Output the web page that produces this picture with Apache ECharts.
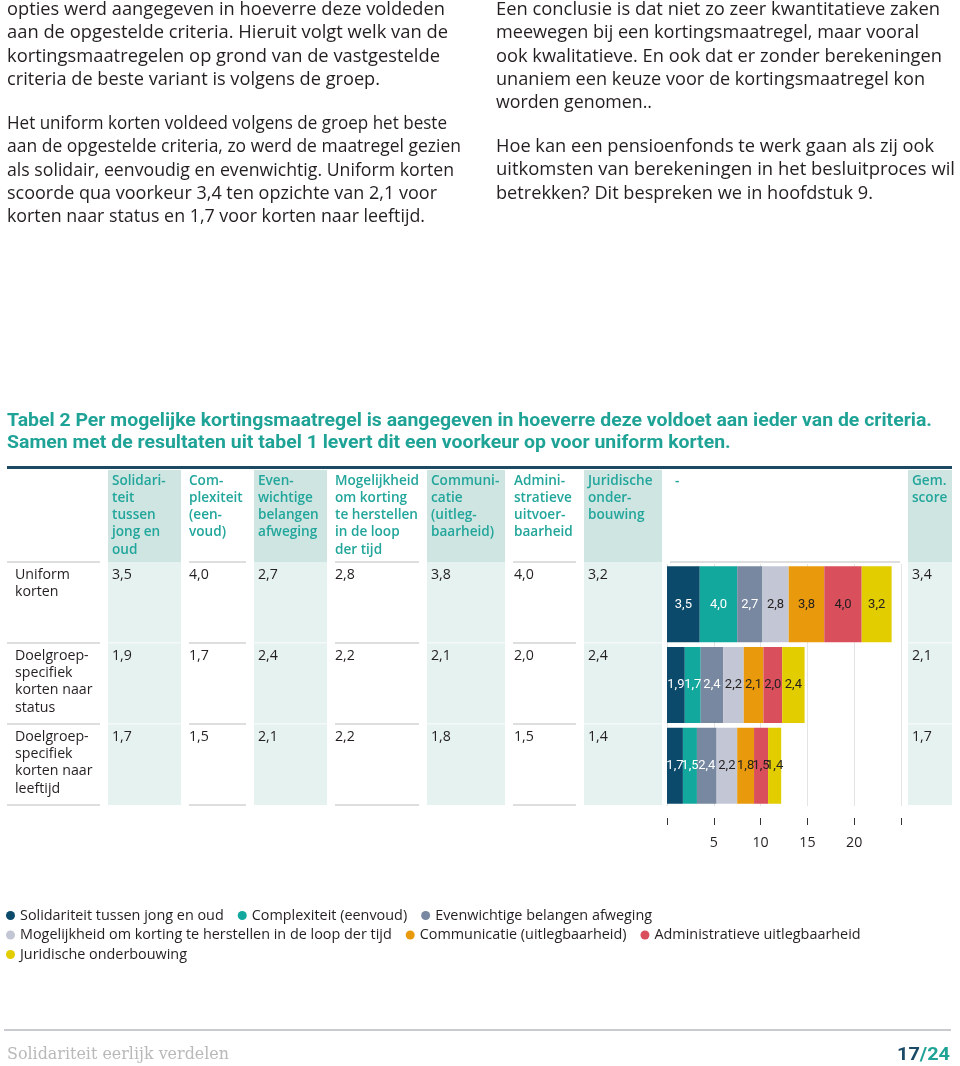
<!DOCTYPE html>
<html>
<head>
<meta charset="utf-8">
<script src="https://cdn.jsdelivr.net/npm/echarts@6.0.0/dist/echarts.min.js"></script>
<style>
html,body{margin:0;padding:0;background:#fff;}
#chart{width:960px;height:1066px;}
</style>
</head>
<body>
<div id="chart"></div>
<script>
// ---------- DATA ----------
const criteria = [
  'Solidariteit tussen jong en oud',
  'Complexiteit (eenvoud)',
  'Evenwichtige belangen afweging',
  'Mogelijkheid om korting te herstellen in de loop der tijd',
  'Communicatie (uitlegbaarheid)',
  'Administratieve uitlegbaarheid',
  'Juridische onderbouwing'
];
const columnHeaders = [
  'Solidari-\nteit\ntussen\njong en\noud',
  'Com-\nplexiteit\n(een-\nvoud)',
  'Even-\nwichtige\nbelangen\nafweging',
  'Mogelijkheid\nom korting\nte herstellen\nin de loop\nder tijd',
  'Communi-\ncatie\n(uitleg-\nbaarheid)',
  'Admini-\nstratieve\nuitvoer-\nbaarheid',
  'Juridische\nonder-\nbouwing',
  '-',
  'Gem.\nscore'
];
const measures = ['Uniform korten', 'Doelgroep-specifiek korten naar status', 'Doelgroep-specifiek korten naar leeftijd'];
const measureLabels = ['Uniform\nkorten', 'Doelgroep-\nspecifiek\nkorten naar\nstatus', 'Doelgroep-\nspecifiek\nkorten naar\nleeftijd'];
const uniformScores  = [3.5, 4.0, 2.7, 2.8, 3.8, 4.0, 3.2];
const statusScores   = [1.9, 1.7, 2.4, 2.2, 2.1, 2.0, 2.4];
const leeftijdScores = [1.7, 1.5, 2.1, 2.2, 1.8, 1.5, 1.4];
const averageScores  = [3.4, 2.1, 1.7];
// bar labels as printed in the source figure
const uniformBarLabels  = ['3,5', '4,0', '2,7', '2,8', '3,8', '4,0', '3,2'];
const statusBarLabels   = ['1,9', '1,7', '2,4', '2,2', '2,1', '2,0', '2,4'];
const leeftijdBarLabels = ['1,7', '1,5', '2,4', '2,2', '1,8', '1,5', '1,4'];
const xTickLabels = ['', '5', '10', '15', '20', ''];
const seriesColors = ['#0c4a6b', '#13a89e', '#7788a0', '#c3c6d4', '#e99a0c', '#da4f5c', '#e2cd00'];
const labelColors  = ['#ffffff', '#ffffff', '#ffffff', '#231f20', '#231f20', '#231f20', '#231f20'];

const leftText = [
  ['opties werd aangegeven in hoeverre deze voldeden',
   'aan de opgestelde criteria. Hieruit volgt welk van de',
   'kortingsmaatregelen op grond van de vastgestelde',
   'criteria de beste variant is volgens de groep.'],
  ['Het uniform korten voldeed volgens de groep het beste',
   'aan de opgestelde criteria, zo werd de maatregel gezien',
   'als solidair, eenvoudig en evenwichtig. Uniform korten',
   'scoorde qua voorkeur 3,4 ten opzichte van 2,1 voor',
   'korten naar status en 1,7 voor korten naar leeftijd.']
];
const rightText = [
  ['Een conclusie is dat niet zo zeer kwantitatieve zaken',
   'meewegen bij een kortingsmaatregel, maar vooral',
   'ook kwalitatieve. En ook dat er zonder berekeningen',
   'unaniem een keuze voor de kortingsmaatregel kon',
   'worden genomen..'],
  ['Hoe kan een pensioenfonds te werk gaan als zij ook',
   'uitkomsten van berekeningen in het besluitproces wil',
   'betrekken? Dit bespreken we in hoofdstuk 9.']
];
const titleLines = [
  'Tabel 2 Per mogelijke kortingsmaatregel is aangegeven in hoeverre deze voldoet aan ieder van de criteria.',
  'Samen met de resultaten uit tabel 1 levert dit een voorkeur op voor uniform korten.'
];
const footerLeft = 'Solidariteit eerlijk verdelen';
const pageNum = ['17', '/24'];

// ---------- LAYOUT ----------
const FAM = "'Open Sans', 'Noto Sans', sans-serif";
const TXT = '#231f20';
const TEAL = '#1fa396';
// right edges of paragraph lines (text set to these measures)
const leftEnds  = [[445, 448, 440, 380], [447, 461, 454, 437, 425]];
const rightEnds = [[940, 919, 942, 925, 652], [934, 955, 873]];
const cvs = document.createElement('canvas').getContext('2d');
function measure(t, font){ cvs.font = font; return cvs.measureText(t).width; }
const bodyFont = '17.4px ' + FAM;
const titleFont = "bold 19px Roboto, sans-serif";
const titleScale = 925 / measure(titleLines[0], titleFont);
const footFont = "17px 'DejaVu Serif', serif";
const footScale = 222 / measure(footerLeft, footFont);
const numFont = "bold 18px Roboto, sans-serif";
const numScale = 53 / measure(pageNum.join(''), numFont);

const cols = [
  {x0:108, x1:181, tx:112, shaded:true},
  {x0:189, x1:246, tx:189},
  {x0:254, x1:327, tx:258, shaded:true},
  {x0:335, x1:419, tx:335},
  {x0:427, x1:505, tx:431, shaded:true},
  {x0:513, x1:576, tx:514},
  {x0:584, x1:662, tx:588, shaded:true},
  {x0:670, x1:900, tx:675},
  {x0:908, x1:952, tx:912, shaded:true}
];
const rowTops = [562, 643, 724];
const tableBottom = 805;

function txt(x, y, text, o){
  o = o || {};
  return {
    type:'text', x:x, y:y, scaleX:o.scaleX||1, silent:true, z:10,
    style:{
      text:text, x:0, y:0,
      fill:o.fill||TXT,
      font:o.font||bodyFont,
      textAlign:o.align||'left', align:o.align||'left',
      textVerticalAlign:'middle', verticalAlign:'middle',
      rich:o.rich
    }
  };
}
const g = [];
function para(blocks, ends, x, y0, gapY){
  let y = y0;
  blocks.forEach((lines, bi) => {
    if (bi > 0) y += gapY;
    lines.forEach((l, li) => {
      const s = (ends[bi][li] - x) / measure(l, bodyFont);
      g.push(txt(x, y, l, {scaleX:s}));
      y += 23.3;
    });
  });
}
para(leftText, leftEnds, 7, 10, 21);
para(rightText, rightEnds, 496, 10, 20.5);

// title
titleLines.forEach((l, i) => g.push(txt(7, 421 + i*22, l, {font:titleFont, fill:TEAL, scaleX:titleScale})));
// top rule
g.push({type:'rect', shape:{x:7, y:466, width:945, height:3}, style:{fill:'#1b4a62'}, silent:true});

// column shading
cols.forEach(c => {
  if (c.shaded) {
    g.push({type:'rect', shape:{x:c.x0, y:470, width:c.x1-c.x0, height:rowTops[0]-470}, style:{fill:'#cfe5e2'}, silent:true, z:0});
    g.push({type:'rect', shape:{x:c.x0, y:rowTops[0], width:c.x1-c.x0, height:tableBottom-rowTops[0]}, style:{fill:'#e6f2f0'}, silent:true, z:0});
  }
});
// separator lines
const sepCols = [{x0:7, x1:100}].concat(cols.filter(c => !c.shaded));
sepCols.forEach(c => {
  const ys = (c.x0 === 670) ? [rowTops[0]] : rowTops.concat([tableBottom]);
  ys.forEach(y => g.push({type:'rect', shape:{x:c.x0, y:y-1, width:c.x1-c.x0, height:2}, style:{fill:'#dedede'}, silent:true, z:1}));
});
cols.filter(c => c.shaded).forEach(c => {
  [643, 724].forEach(y => g.push({type:'rect', shape:{x:c.x0, y:y-1, width:c.x1-c.x0, height:1.5}, style:{fill:'#f3f9f8'}, silent:true, z:1}));
});
// header texts
const headFont = '600 13.6px ' + FAM;
columnHeaders.forEach((h, ci) => {
  h.split('\n').forEach((l, li) => g.push(txt(cols[ci].tx, 481 + li*17.2, l, {font:headFont, fill:'#22a69b'})));
});
// row labels and values
const cellFont = '14.2px ' + FAM;
const allScores = [uniformScores, statusScores, leeftijdScores];
measureLabels.forEach((m, ri) => {
  m.split('\n').forEach((l, li) => g.push(txt(15, rowTops[ri] + 13 + li*17.2, l, {font:cellFont})));
  allScores[ri].forEach((v, ci) => g.push(txt(cols[ci].tx, rowTops[ri] + 13, v.toFixed(1).replace('.', ','), {font:cellFont})));
  g.push(txt(cols[8].tx, rowTops[ri] + 13, averageScores[ri].toFixed(1).replace('.', ','), {font:cellFont}));
});

// footer
g.push({type:'rect', shape:{x:4, y:1029, width:947, height:2}, style:{fill:'#c9cbd0'}, silent:true});
g.push(txt(7, 1055, footerLeft, {font:footFont, fill:'#b9b9b9', scaleX:footScale}));
g.push(txt(950, 1055, '{a|' + pageNum[0] + '}{b|' + pageNum[1] + '}', {
  font:numFont, align:'right', scaleX:numScale,
  rich:{a:{fill:'#1b4a66', font:numFont}, b:{fill:TEAL, font:numFont}}
}));

// ---------- CHART ----------
const barLabelSets = [uniformBarLabels, statusBarLabels, leeftijdBarLabels];
const series = criteria.map((name, si) => ({
  name: name,
  type: 'bar',
  stack: 'total',
  barWidth: 76,
  itemStyle: {color: seriesColors[si]},
  label: {
    show: true, position: 'inside',
    color: labelColors[si], fontSize: 13, fontFamily: 'Roboto, sans-serif',
    formatter: p => barLabelSets[p.dataIndex][si]
  },
  emphasis: {disabled: true},
  data: allScores.map(r => r[si])
}));

const legendBase = {
  left: 6, padding: 0, icon: 'circle', itemWidth: 9, itemHeight: 9, itemGap: 14,
  textStyle: {fontSize: 14.4, color: TXT, fontFamily: FAM}, selectedMode: false
};
const option = {
  animation: false,
  textStyle: {fontFamily: FAM},
  grid: {left: 667, width: 234, top: 564, height: 242, containLabel: false},
  xAxis: {
    type: 'value', min: 0, max: 25, interval: 5, position: 'bottom', offset: 12,
    axisLine: {show: false},
    axisTick: {show: true, length: 7, lineStyle: {color: '#333', width: 1}},
    axisLabel: {margin: 18, fontSize: 14.2, color: TXT, formatter: (v, i) => xTickLabels[i] || ''},
    splitLine: {show: true, lineStyle: {color: '#e4e4e4', width: 1}}
  },
  yAxis: {
    type: 'category', inverse: true, data: measures, show: false
  },
  legend: [
    Object.assign({top: 908.5, data: criteria.slice(0, 3)}, legendBase),
    Object.assign({top: 928, data: criteria.slice(3, 6)}, legendBase),
    Object.assign({top: 947.5, data: criteria.slice(6)}, legendBase)
  ],
  series: series,
  graphic: {elements: g}
};
const chart = echarts.init(document.getElementById('chart'), null, {renderer: 'canvas'});
chart.setOption(option);
</script>
</body>
</html>
